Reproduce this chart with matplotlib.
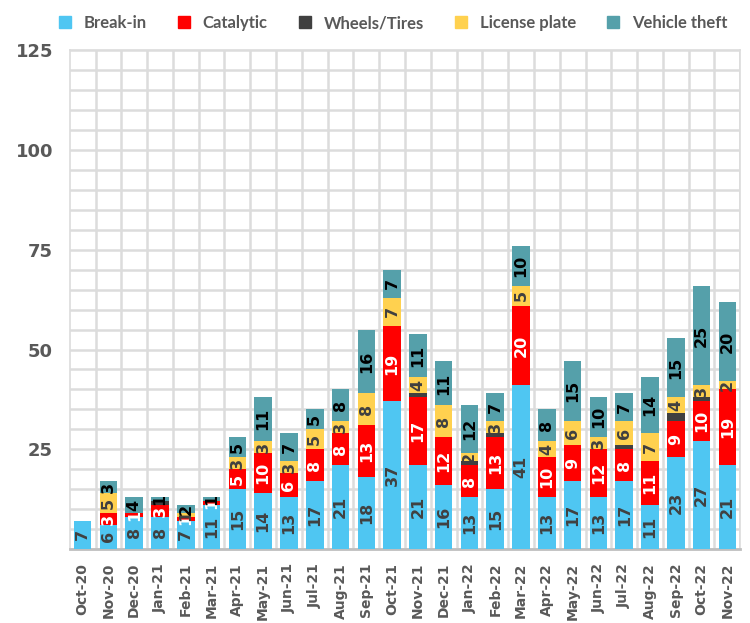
import numpy as np
import matplotlib.pyplot as plt
from matplotlib.lines import Line2D

months = ["Oct-20", "Nov-20", "Dec-20", "Jan-21", "Feb-21", "Mar-21", "Apr-21",
          "May-21", "Jun-21", "Jul-21", "Aug-21", "Sep-21", "Oct-21", "Nov-21",
          "Dec-21", "Jan-22", "Feb-22", "Mar-22", "Apr-22", "May-22", "Jun-22",
          "Jul-22", "Aug-22", "Sep-22", "Oct-22", "Nov-22"]

break_in = [7, 6, 8, 8, 7, 11, 15, 14, 13, 17, 21, 18, 37, 21, 16, 13, 15, 41, 13, 17, 13, 17, 11, 23, 27, 21]
catalytic = [0, 3, 1, 3, 1, 1, 5, 10, 6, 8, 8, 13, 19, 17, 12, 8, 13, 20, 10, 9, 12, 8, 11, 9, 10, 19]
wheels = [0, 0, 0, 1, 0, 0, 0, 0, 0, 0, 0, 0, 0, 1, 0, 1, 1, 0, 0, 0, 0, 1, 0, 2, 1, 0]
license_plate = [0, 5, 0, 0, 1, 0, 3, 3, 3, 5, 3, 8, 7, 4, 8, 2, 3, 5, 4, 6, 3, 6, 7, 4, 3, 2]
vehicle_theft = [0, 3, 4, 1, 2, 1, 5, 11, 7, 5, 8, 16, 7, 11, 11, 12, 7, 10, 8, 15, 10, 7, 14, 15, 25, 20]

series = [
    ("Break-in", break_in, "#4FC6F2", "#404040"),
    ("Catalytic", catalytic, "#FF0000", "white"),
    ("Wheels/Tires", wheels, "#404040", None),
    ("License plate", license_plate, "#FFD14F", "#404040"),
    ("Vehicle theft", vehicle_theft, "#55A0AA", "black"),
]

fig = plt.figure(figsize=(7.5, 6.23), dpi=100)
ax = fig.add_axes([0.093, 0.119, 0.894, 0.80])

x = np.arange(len(months))
bottom = np.zeros(len(months))
handles = []
for name, vals, color, tcolor in series:
    vals = np.array(vals, dtype=float)
    ax.bar(x, vals, 0.68, bottom=bottom, color=color, zorder=3)
    if tcolor is not None:
        for xi, v, b in zip(x, vals, bottom):
            if v > 0:
                ax.text(xi, b + v / 2, f"{int(v)}", rotation=90, ha="center", va="center",
                        fontsize=11.5, fontweight="bold", color=tcolor, zorder=4)
    bottom += vals
    handles.append(Line2D([], [], marker="s", linestyle="none", markersize=9,
                          markerfacecolor=color, markeredgecolor=color, label=name))

ax.set_xlim(-0.5, len(months) - 0.5)
ax.set_ylim(0, 125)
ax.set_yticks([25, 50, 75, 100, 125])
ax.set_yticks(np.arange(0, 126, 5), minor=True)
ax.set_xticks(x)
ax.set_xticklabels(months, rotation=90, fontsize=10, fontweight="bold", color="#595959")
ax.set_xticks(x + 0.5, minor=True)
for lab in ax.get_yticklabels():
    lab.set_fontsize(13)
    lab.set_fontweight("bold")
    lab.set_color("#595959")
ax.tick_params(axis="y", which="both", length=0, pad=12)
ax.tick_params(axis="x", which="both", length=0, pad=10)

ax.grid(which="minor", color="#dcdcdc", linewidth=1.8, zorder=0)
ax.grid(which="major", axis="y", color="#dcdcdc", linewidth=1.8, zorder=0)
for s in ["top", "right", "left"]:
    ax.spines[s].set_color("#dcdcdc")
    ax.spines[s].set_linewidth(1.2)
ax.spines["bottom"].set_color("#bfbfbf")
ax.spines["bottom"].set_linewidth(2)

fig.legend(handles=handles, loc="upper left", bbox_to_anchor=(0.045, 1.0), ncol=5,
           frameon=False, handletextpad=0.1, columnspacing=1.25,
           prop={"family": "Lato", "weight": "bold", "size": 12},
           labelcolor="#595959")

fig.savefig("out.png", dpi=100)
